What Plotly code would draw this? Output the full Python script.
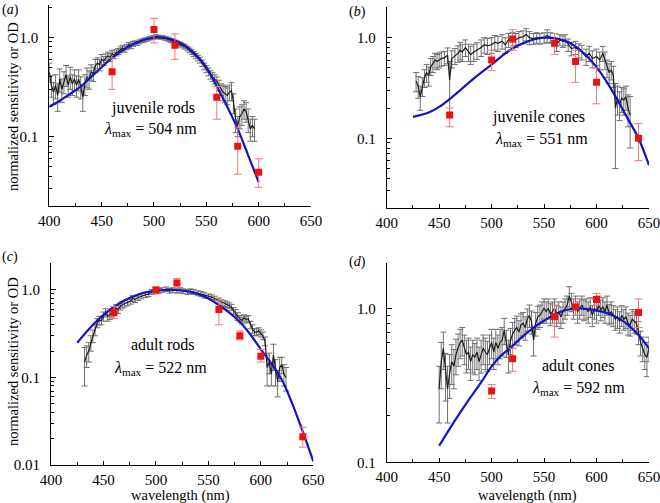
import plotly.graph_objects as go

W, H = 660, 503

# ---------------- panel (a) juvenile rods ----------------
a_wl = list(range(400, 598, 2))
a_val = [0.45,0.33,0.28,0.33,0.26,0.38,0.30,0.36,0.42,0.33,
         0.40,0.34,0.38,0.33,0.38,0.32,0.25,0.34,0.40,0.38,
         0.45,0.43,0.52,0.55,0.53,0.60,0.58,0.62,0.65,0.63,
         0.68,0.66,0.70,0.72,0.75,0.78,0.76,0.80,0.84,0.82,
         0.86,0.88,0.87,0.90,0.92,0.93,0.95,0.96,0.98,0.99,
         1.00,1.02,1.01,1.00,1.00,0.98,0.97,0.95,0.93,0.92,
         0.90,0.88,0.86,0.84,0.82,0.80,0.77,0.74,0.71,0.68,
         0.65,0.62,0.59,0.55,0.51,0.48,0.45,0.42,0.40,0.38,
         0.36,0.33,0.30,0.28,0.27,0.26,0.28,0.29,0.22,0.15,
         0.13,0.16,0.17,0.19,0.18,0.15,0.12,0.13,0.12]
a_err = [0.10,0.08,0.07,0.09,0.08,0.10,0.08,0.09,0.10,0.08,
         0.10,0.08,0.09,0.08,0.09,0.08,0.07,0.08,0.09,0.08,
         0.08,0.07,0.08,0.07,0.07,0.07,0.06,0.06,0.06,0.06,
         0.06,0.05,0.05,0.05,0.05,0.05,0.05,0.05,0.05,0.05,
         0.05,0.04,0.04,0.04,0.04,0.04,0.04,0.04,0.04,0.04,
         0.04,0.04,0.04,0.04,0.04,0.04,0.04,0.04,0.04,0.04,
         0.04,0.04,0.04,0.04,0.04,0.04,0.04,0.04,0.04,0.04,
         0.04,0.04,0.04,0.04,0.04,0.04,0.04,0.04,0.04,0.04,
         0.04,0.04,0.04,0.05,0.05,0.05,0.05,0.06,0.05,0.04,
         0.03,0.04,0.04,0.04,0.04,0.04,0.03,0.03,0.03]
a_fit_wl = [400,410,420,430,440,450,460,470,480,490,500,504,510,520,530,540,550,560,570,580,590,600]
a_fit = [0.20,0.23,0.27,0.32,0.40,0.50,0.62,0.74,0.85,0.94,0.99,1.0,0.99,0.93,0.82,0.67,0.50,0.32,0.20,0.12,0.065,0.035]
a_red_wl = [460,500,520,560,580,600]
a_red = [0.45,1.2,0.83,0.25,0.08,0.044]
a_red_hi = [0.62,1.55,1.08,0.32,0.125,0.06]
a_red_lo = [0.30,0.88,0.60,0.15,0.042,0.031]

# ---------------- panel (b) juvenile cones ----------------
b_wl = [428,430,432,434,436,438,440,442,444,446,
        448,450,452,455,458,460,462,465,468,470,
        472,475,478,480,483,486,490,493,496,500,
        503,506,510,513,516,520,523,526,530,533,
        536,540,543,546,550,553,556,560,562,565,
        568,570,573,576,580,583,586,590,593,596,
        600,603,606,608,610,612,614,616,618,620,
        622,624,626,628,630,632]
b_val = [0.37,0.33,0.26,0.33,0.40,0.45,0.42,0.52,0.55,0.60,
         0.58,0.60,0.62,0.63,0.67,0.38,0.62,0.66,0.70,0.75,
         0.72,0.80,0.72,0.68,0.72,0.75,0.80,0.85,0.83,0.85,
         0.90,0.88,0.92,0.85,0.95,0.98,0.95,1.00,1.02,1.08,
         1.00,0.98,1.00,0.98,1.00,1.05,1.00,0.98,0.85,0.95,
         0.92,0.95,0.85,0.78,0.80,0.75,0.72,0.65,0.70,0.62,
         0.65,0.60,0.70,0.60,0.50,0.45,0.48,0.42,0.20,0.25,
         0.22,0.25,0.24,0.26,0.20,0.17]
b_err = [0.08,0.08,0.07,0.07,0.08,0.09,0.09,0.10,0.10,0.10,
         0.10,0.10,0.10,0.10,0.12,0.20,0.12,0.12,0.13,0.15,
         0.14,0.15,0.14,0.14,0.14,0.14,0.15,0.15,0.15,0.15,
         0.15,0.15,0.15,0.15,0.15,0.15,0.15,0.15,0.15,0.15,
         0.15,0.12,0.12,0.12,0.12,0.15,0.12,0.12,0.12,0.12,
         0.12,0.12,0.12,0.12,0.12,0.12,0.12,0.12,0.12,0.12,
         0.12,0.12,0.12,0.12,0.10,0.10,0.10,0.10,0.15,0.08,
         0.07,0.07,0.07,0.07,0.07,0.09]
b_fit_wl = [425,440,450,460,470,480,490,500,510,520,530,540,550,560,570,580,590,600,610,620,630,640,650]
b_fit = [0.163,0.18,0.205,0.245,0.30,0.37,0.45,0.54,0.66,0.78,0.88,0.96,1.0,0.99,0.93,0.82,0.67,0.51,0.36,0.24,0.155,0.10,0.054]
b_red_wl = [460,500,520,560,580,600,640]
b_red = [0.17,0.60,0.97,0.88,0.58,0.36,0.10]
b_red_hi = [0.20,0.75,1.20,1.10,0.75,0.50,0.14]
b_red_lo = [0.13,0.47,0.75,0.68,0.36,0.22,0.06]

# ---------------- panel (c) adult rods ----------------
c_wl = [432,434,436,438,440,442,444,446,448,450,
        452,454,456,458,460,462,464,466,468,470,
        473,476,478,480,483,486,490,493,496,500,
        503,506,510,513,516,520,523,526,530,533,
        536,540,543,546,550,553,556,560,563,566,
        568,570,572,574,576,578,580,582,584,586,
        588,590,592,594,596,598,600,602,604,606,
        608,610,612,614,616,618,620,622,624]
c_val = [0.15,0.18,0.20,0.25,0.30,0.35,0.42,0.45,0.45,0.50,
         0.55,0.50,0.52,0.55,0.58,0.62,0.60,0.65,0.68,0.70,
         0.72,0.75,0.80,0.78,0.82,0.85,0.88,0.90,0.95,0.98,
         0.98,1.00,1.02,0.98,1.00,0.98,1.00,0.97,0.95,0.97,
         0.95,0.92,0.90,0.87,0.85,0.83,0.80,0.76,0.72,0.70,
         0.68,0.66,0.63,0.58,0.55,0.50,0.47,0.45,0.48,0.46,
         0.47,0.40,0.36,0.33,0.33,0.34,0.32,0.30,0.26,0.13,
         0.15,0.11,0.18,0.12,0.09,0.13,0.14,0.11,0.10]
c_err = [0.07,0.05,0.05,0.05,0.05,0.05,0.05,0.05,0.05,0.06,
         0.06,0.06,0.06,0.06,0.06,0.06,0.06,0.06,0.06,0.06,
         0.06,0.06,0.06,0.06,0.06,0.06,0.06,0.06,0.06,0.06,
         0.06,0.06,0.06,0.06,0.06,0.06,0.06,0.06,0.06,0.06,
         0.06,0.06,0.06,0.06,0.05,0.05,0.05,0.05,0.05,0.05,
         0.05,0.05,0.05,0.05,0.05,0.05,0.04,0.04,0.04,0.04,
         0.04,0.04,0.04,0.03,0.03,0.03,0.03,0.03,0.03,0.05,
         0.04,0.03,0.06,0.04,0.03,0.04,0.03,0.03,0.03]
c_fit_wl = [425,440,450,460,470,480,490,500,510,520,530,540,550,560,570,580,590,600,610,620,630,640,650]
c_fit = [0.25,0.40,0.52,0.64,0.76,0.86,0.94,0.98,1.0,1.0,0.97,0.90,0.80,0.67,0.55,0.43,0.31,0.21,0.145,0.094,0.05,0.024,0.011]
c_red_wl = [460,500,520,560,580,600,640]
c_red = [0.55,1.0,1.2,0.6,0.30,0.175,0.021]
c_red_hi = [0.65,1.08,1.35,0.75,0.34,0.21,0.027]
c_red_lo = [0.47,0.90,1.05,0.40,0.27,0.15,0.016]

# ---------------- panel (d) adult cones ----------------
d_wl = list(range(450, 652, 2))
d_val = [0.30,0.45,0.55,0.38,0.30,0.38,0.45,0.42,0.50,0.55,
         0.60,0.62,0.55,0.50,0.52,0.45,0.50,0.48,0.52,0.45,
         0.50,0.55,0.52,0.50,0.55,0.60,0.52,0.60,0.55,0.60,
         0.62,0.72,0.60,0.50,0.62,0.68,0.72,0.75,0.70,0.78,
         0.80,0.75,0.85,0.90,0.82,0.62,0.80,0.88,0.90,0.95,
         1.00,0.95,1.00,0.92,0.95,1.00,0.90,0.95,0.88,0.95,
         1.00,1.05,1.20,1.10,1.00,1.05,0.95,1.00,1.05,0.98,
         1.00,0.95,1.02,0.90,1.00,0.95,1.05,0.98,1.02,0.95,
         1.05,0.92,0.95,0.90,0.85,0.88,0.82,0.90,0.85,0.88,
         0.80,0.78,0.85,0.82,0.80,0.70,0.60,0.55,0.50,0.48,
         0.55]
d_err = [0.12,0.15,0.15,0.13,0.12,0.12,0.13,0.12,0.13,0.13,
         0.13,0.13,0.12,0.12,0.12,0.11,0.12,0.11,0.12,0.11,
         0.12,0.12,0.12,0.11,0.12,0.13,0.12,0.13,0.12,0.13,
         0.13,0.14,0.12,0.12,0.12,0.13,0.14,0.14,0.13,0.14,
         0.14,0.13,0.14,0.15,0.14,0.13,0.14,0.15,0.15,0.15,
         0.15,0.15,0.15,0.15,0.15,0.15,0.14,0.15,0.14,0.15,
         0.15,0.15,0.18,0.15,0.15,0.15,0.15,0.15,0.15,0.15,
         0.15,0.15,0.15,0.14,0.15,0.15,0.15,0.15,0.15,0.15,
         0.15,0.14,0.15,0.14,0.13,0.14,0.13,0.14,0.13,0.14,
         0.13,0.12,0.13,0.13,0.12,0.12,0.11,0.10,0.10,0.12,
         0.10]
d_fit_wl = [450,460,470,480,490,500,510,520,530,540,550,560,570,580,590,600,610,620,630,640,650]
d_fit = [0.128,0.165,0.21,0.265,0.33,0.42,0.50,0.57,0.66,0.75,0.83,0.91,0.97,1.0,0.99,0.97,0.93,0.87,0.78,0.67,0.55]
d_red_wl = [500,520,560,580,600,640]
d_red = [0.29,0.47,0.88,1.02,1.14,0.94]
d_red_hi = [0.32,0.55,1.05,1.10,1.25,1.15]
d_red_lo = [0.26,0.39,0.65,0.90,1.05,0.75]

x_ticks = [400, 450, 500, 550, 600, 650]
x_minor = [425, 475, 525, 575, 625]

panels = [
    dict(name="a", wl=a_wl, val=a_val, err=a_err, fwl=a_fit_wl, fit=a_fit,
         rwl=a_red_wl, red=a_red, rhi=a_red_hi, rlo=a_red_lo,
         px=(49.3, 311.0), py=(5.0, 206.0), yr=(-1.697, 0.325),
         yt=[0.1, 1.0], ytt=["0.1", "1.0"]),
    dict(name="b", wl=b_wl, val=b_val, err=b_err, fwl=b_fit_wl, fit=b_fit,
         rwl=b_red_wl, red=b_red, rhi=b_red_hi, rlo=b_red_lo,
         px=(386.7, 649.0), py=(6.7, 208.3), yr=(-1.696, 0.308),
         yt=[0.1, 1.0], ytt=["0.1", "1.0"]),
    dict(name="c", wl=c_wl, val=c_val, err=c_err, fwl=c_fit_wl, fit=c_fit,
         rwl=c_red_wl, red=c_red, rhi=c_red_hi, rlo=c_red_lo,
         px=(51.0, 313.3), py=(263.3, 465.0), yr=(-2.0, 0.305),
         yt=[0.01, 0.1, 1.0], ytt=["0.01", "0.1", "1.0"]),
    dict(name="d", wl=d_wl, val=d_val, err=d_err, fwl=d_fit_wl, fit=d_fit,
         rwl=d_red_wl, red=d_red, rhi=d_red_hi, rlo=d_red_lo,
         px=(386.7, 649.0), py=(262.7, 462.3), yr=(-1.0, 0.296),
         yt=[0.1, 1.0], ytt=["0.1", "1.0"]),
]

y_minor = [m * 10.0 ** e for e in (-3, -2, -1, 0) for m in range(2, 10)]

FONT = "Liberation Serif"
fig = go.Figure()
layout = dict(width=W, height=H,
              margin=dict(l=0, r=0, t=0, b=0, pad=0, autoexpand=False),
              paper_bgcolor="white", plot_bgcolor="white", showlegend=False,
              font=dict(family=FONT, size=15, color="black"))

for i, p in enumerate(panels):
    k = "" if i == 0 else str(i + 1)
    xa, ya = "x" + k, "y" + k
    fig.add_trace(go.Scatter(
        x=p["wl"], y=p["val"], mode="lines", xaxis=xa, yaxis=ya,
        line=dict(color="#1c1c1c", width=1.2),
        error_y=dict(type="data", array=p["err"], color="#707070", thickness=1, width=3)))
    fig.add_trace(go.Scatter(
        x=p["fwl"], y=p["fit"], mode="lines", xaxis=xa, yaxis=ya,
        line=dict(color="#1414c4", width=2.2, shape="spline", smoothing=1.0)))
    fig.add_trace(go.Scatter(
        x=p["rwl"], y=p["red"], mode="markers", xaxis=xa, yaxis=ya,
        marker=dict(symbol="square", size=7, color="#ee1111"),
        error_y=dict(type="data", symmetric=False,
                     array=[h - v for h, v in zip(p["rhi"], p["red"])],
                     arrayminus=[v - l for v, l in zip(p["red"], p["rlo"])],
                     color="#f07a7a", thickness=1, width=4)))
    x0, x1 = p["px"]
    yt, yb = p["py"]
    layout["xaxis" + k] = dict(
        domain=[x0 / W, x1 / W], range=[400, 650], anchor=ya, automargin=False,
        showgrid=False, zeroline=False, showline=True, linecolor="black", linewidth=1,
        ticks="inside", ticklen=4, tickcolor="black", tickvals=x_ticks,
        ticklabelstandoff=1, ticklabeloverflow="allow",
        tickfont=dict(family=FONT, size=15, color="black"),
        minor=dict(ticks="inside", ticklen=3, tickcolor="black", tickvals=x_minor))
    layout["yaxis" + k] = dict(
        domain=[1 - yb / H, 1 - yt / H], type="log", range=list(p["yr"]), anchor=xa,
        automargin=False,
        showgrid=False, zeroline=False, showline=True, linecolor="black", linewidth=1,
        ticks="inside", ticklen=5, tickcolor="black", tickvals=p["yt"], ticktext=p["ytt"],
        ticklabelstandoff=7, ticklabeloverflow="allow",
        tickfont=dict(family=FONT, size=15, color="black"),
        minor=dict(ticks="inside", ticklen=3, tickcolor="black", tickvals=y_minor))

fig.update_layout(**layout)

def ann(text, x, y, size=15, angle=0, xanchor="center"):
    fig.add_annotation(text=text, x=x / W, y=1 - y / H, xref="paper", yref="paper",
                       showarrow=False, textangle=angle,
                       font=dict(family=FONT, size=size, color="black"),
                       xanchor=xanchor, yanchor="middle")

ann("(<i>a</i>)", 0, 10, 14, xanchor="left")
ann("(<i>b</i>)", 347, 12, 14, xanchor="left")
ann("(<i>c</i>)", 0, 257, 14, xanchor="left")
ann("(<i>d</i>)", 347, 262, 14, xanchor="left")

ann("juvenile rods", 153, 108, 16)
ann("<i>λ</i><sub>max</sub> = 504 nm", 150, 129, 16)
ann("juvenile cones", 538, 117, 16)
ann("<i>λ</i><sub>max</sub> = 551 nm", 541, 139, 16)
ann("adult rods", 163, 344, 16)
ann("<i>λ</i><sub>max</sub> = 522 nm", 160, 368, 16)
ann("adult cones", 578, 365, 16)
ann("<i>λ</i><sub>max</sub> = 592 nm", 578, 388, 16)

ann("normalized sensitivity or OD", 13, 107, 14.5, -90)
ann("normalized sensitivity or OD", 13, 362, 14.5, -90)
ann("wavelength (nm)", 180, 495, 14.5)
ann("wavelength (nm)", 527, 495, 14.5)

fig.write_html("out.html", config={"displayModeBar": False},
               post_script="document.body.style.margin='0';document.body.style.overflow='hidden';")
